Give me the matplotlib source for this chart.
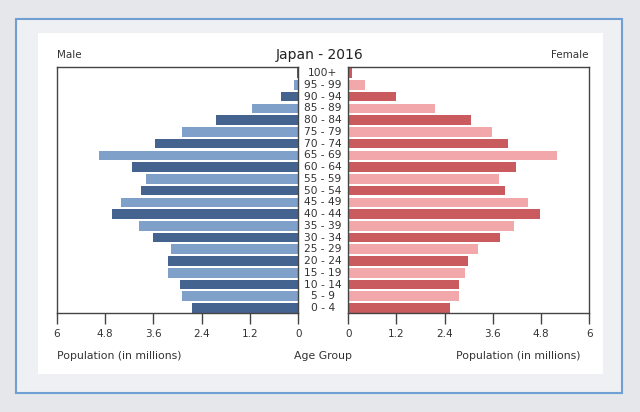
import matplotlib.pyplot as plt
import matplotlib.patches as mpatches
from matplotlib.transforms import blended_transform_factory

# Data (millions)
age_groups = ['0 - 4', '5 - 9', '10 - 14', '15 - 19', '20 - 24', '25 - 29',
              '30 - 34', '35 - 39', '40 - 44', '45 - 49', '50 - 54', '55 - 59',
              '60 - 64', '65 - 69', '70 - 74', '75 - 79', '80 - 84', '85 - 89',
              '90 - 94', '95 - 99', '100+']
male = [2.65, 2.88, 2.95, 3.23, 3.23, 3.17, 3.60, 3.95, 4.63, 4.40, 3.91,
        3.78, 4.12, 4.95, 3.56, 2.88, 2.05, 1.15, 0.43, 0.10, 0.02]
female = [2.54, 2.75, 2.75, 2.90, 2.97, 3.24, 3.77, 4.13, 4.78, 4.47, 3.89,
          3.75, 4.17, 5.19, 3.97, 3.57, 3.05, 2.16, 1.18, 0.41, 0.10]
ticks = [0, 1.2, 2.4, 3.6, 4.8, 6]
tick_labels = ['0', '1.2', '2.4', '3.6', '4.8', '6']

male_colors = ['#44648f', '#7fa0c9']
female_colors = ['#c95a5e', '#f2a7aa']
text_color = '#333333'

W, H = 640, 412
fig = plt.figure(figsize=(6.4, 4.12), dpi=100)
fig.patch.set_facecolor('#e5e7eb')

# frame and white panel (pixel coords -> figure fraction)
def px_rect(x0, y0, x1, y1, **kw):
    r = mpatches.Rectangle((x0 / W, 1 - y1 / H), (x1 - x0) / W, (y1 - y0) / H,
                           transform=fig.transFigure, zorder=-10, **kw)
    fig.patches.append(r)

px_rect(16, 19, 622, 393, facecolor='#eef0f3', edgecolor='#6f9fd3', linewidth=1.5)
px_rect(38, 33, 603, 374, facecolor='white', edgecolor='none')

ax_l = fig.add_axes([56.7 / W, 1 - 313.3 / H, 241.6 / W, 246.6 / H])
ax_r = fig.add_axes([348.3 / W, 1 - 313.3 / H, 241.0 / W, 246.6 / H])

y = list(range(len(age_groups)))
cm = [male_colors[i % 2] for i in y]
cf = [female_colors[i % 2] for i in y]

ax_l.barh(y, male, height=0.82, color=cm)
ax_r.barh(y, female, height=0.82, color=cf)

ax_l.set_xlim(6, 0)
ax_r.set_xlim(0, 6)
for ax in (ax_l, ax_r):
    ax.set_ylim(-0.45, 20.55)
    ax.set_yticks([])
    ax.set_xticks(ticks)
    ax.set_xticklabels(tick_labels, fontsize=7.5, color=text_color)
    ax.tick_params(axis='x', direction='out', length=8, width=1,
                   color='#444444', pad=3)
    ax.set_facecolor('white')
    for s in ax.spines.values():
        s.set_color('#444444')
        s.set_linewidth(1)

# age group labels between the two axes
tr = blended_transform_factory(fig.transFigure, ax_r.transData)
for i, lab in enumerate(age_groups):
    fig.text(323 / W, i, lab, transform=tr, ha='center', va='center',
             fontsize=7.7, color=text_color)

fig.text(320 / W, 1 - 55 / H, 'Japan - 2016', ha='center', va='center',
         fontsize=10, color='#222222')
fig.text(57 / W, 1 - 55.5 / H, 'Male', ha='left', va='center',
         fontsize=7.5, color=text_color)
fig.text(588 / W, 1 - 55.5 / H, 'Female', ha='right', va='center',
         fontsize=7.5, color=text_color)

fig.text(57 / W, 1 - 356 / H, 'Population (in millions)', ha='left',
         va='center', fontsize=7.8, color=text_color)
fig.text(323 / W, 1 - 356 / H, 'Age Group', ha='center', va='center',
         fontsize=7.8, color=text_color)
fig.text(581 / W, 1 - 356 / H, 'Population (in millions)', ha='right',
         va='center', fontsize=7.8, color=text_color)

plt.savefig('out.png', dpi=100, facecolor=fig.get_facecolor())
